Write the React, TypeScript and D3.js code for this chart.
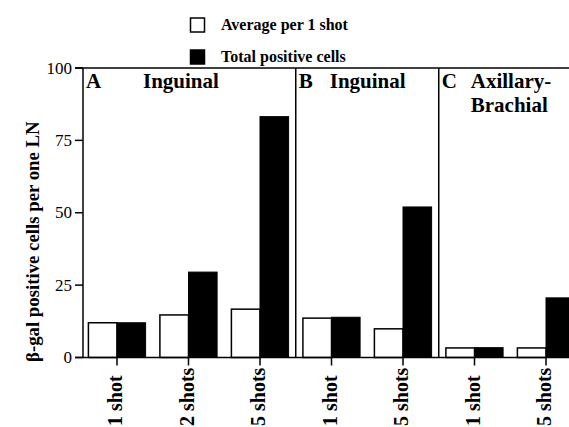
import React from "react";
import * as d3 from "d3";

const categories = ["A-1", "A-2", "A-5", "B-1", "B-5", "C-1", "C-5"];
const tickLabels = ["1 shot", "2 shots", "5 shots", "1 shot", "5 shots", "1 shot", "5 shots"];
const averagePerShot = [12, 14.7, 16.7, 13.6, 9.9, 3.3, 3.3];
const totalPositive = [12, 29.5, 83.2, 13.9, 52, 3.4, 20.6];
const panels = [
  { id: "A", name: ["Inguinal"], first: 0, nameOffset: 60 },
  { id: "B", name: ["Inguinal"], first: 3, nameOffset: 34 },
  { id: "C", name: ["Axillary-", "Brachial"], first: 5, nameOffset: 32 },
];
const yTicks = [0, 25, 50, 75, 100];
const legendItems = [
  { label: "Average per 1 shot", fill: "#fff" },
  { label: "Total positive cells", fill: "#000" },
];

const W = 569;
const H = 427;
const FONT = "Liberation Serif";

export default function App() {
  const y = d3.scaleLinear().domain([0, 100]).range([357.5, 68]);
  const x = d3.scalePoint<string>().domain(categories).range([117, 546]);
  const step = x.step();
  const half = step * 0.4;
  const left = 83;

  const dividers = [panels[1].first, panels[2].first].map(
    (i) => ((x(categories[i - 1]) as number) + (x(categories[i]) as number)) / 2
  );
  const panelLeft = [left, ...dividers];

  return (
    <svg
      width={W}
      height={H}
      style={{ position: "fixed", left: 0, top: 0, background: "#fff", fontFamily: FONT }}
    >
      <rect x={0} y={0} width={W} height={H} fill="#fff" />
      {/* legend */}
      {legendItems.map((it, i) => (
        <g key={it.label} transform={`translate(0,${i * 32})`}>
          <rect x={190.5} y={18} width={14} height={14} fill={it.fill} stroke="#000" strokeWidth={1.5} />
          <text x={221} y={30} fontSize={16} fontWeight="bold">{it.label}</text>
        </g>
      ))}

      {/* bars */}
      {categories.map((c, i) => {
        const cx = x(c) as number;
        return (
          <g key={c}>
            <rect
              x={cx - half}
              y={y(averagePerShot[i])}
              width={half}
              height={y(0) - y(averagePerShot[i])}
              fill="#fff"
              stroke="#000"
              strokeWidth={1.5}
            />
            <rect
              x={cx}
              y={y(totalPositive[i])}
              width={half}
              height={y(0) - y(totalPositive[i])}
              fill="#000"
              stroke="#000"
              strokeWidth={1}
            />
          </g>
        );
      })}

      {/* frame */}
      <line x1={75} x2={W} y1={y(100)} y2={y(100)} stroke="#000" strokeWidth={1.5} />
      <line x1={75} x2={W} y1={y(0)} y2={y(0)} stroke="#000" strokeWidth={1.5} />
      <line x1={left} x2={left} y1={y(100)} y2={y(0)} stroke="#000" strokeWidth={1.5} />
      {dividers.map((d, i) => (
        <line key={i} x1={d} x2={d} y1={y(100)} y2={y(0)} stroke="#000" strokeWidth={1.5} />
      ))}

      {/* y ticks */}
      {yTicks.map((t) => (
        <g key={t}>
          <line x1={75} x2={left} y1={y(t)} y2={y(t)} stroke="#000" strokeWidth={1.5} />
          <text x={72} y={y(t)} dy="0.33em" textAnchor="end" fontSize={17}>
            {t}
          </text>
        </g>
      ))}

      {/* x ticks */}
      {categories.map((c, i) => {
        const cx = x(c) as number;
        return (
          <g key={c}>
            <line x1={cx} x2={cx} y1={y(0)} y2={y(0) + 8} stroke="#000" strokeWidth={1.5} />
            <text
              transform={`translate(${cx},426) rotate(-90)`}
              dy="0.25em"
              textAnchor="start"
              fontSize={20}
              fontWeight="bold"
            >
              {tickLabels[i]}
            </text>
          </g>
        );
      })}

      {/* panel labels */}
      {panels.map((p, i) => {
        const px = panelLeft[i];
        return (
          <g key={p.id}>
            <text x={px + 3} y={88} fontSize={21} fontWeight="bold">{p.id}</text>
            {p.name.map((n, j) => (
              <text key={j} x={px + p.nameOffset} y={88 + j * 24} fontSize={21} fontWeight="bold">
                {n}
              </text>
            ))}
          </g>
        );
      })}

      {/* y axis title */}
      <text
        transform={`translate(39,362) rotate(-90)`}
        textAnchor="start"
        fontSize={18.8}
        fontWeight="bold"
      >
        β-gal positive cells per one LN
      </text>
    </svg>
  );
}
